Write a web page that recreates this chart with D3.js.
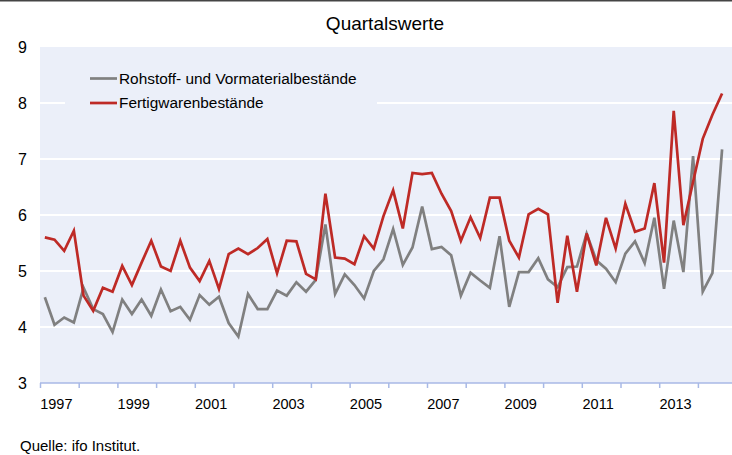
<!DOCTYPE html>
<html>
<head>
<meta charset="utf-8">
<script src="https://cdn.jsdelivr.net/npm/d3@7"></script>
<style>
  body { margin: 0; background: #fff; }
  text { font-family: "Liberation Sans", Arial, sans-serif; fill: #000; }
</style>
</head>
<body>
<script>
/* ---------------------------- */
/* DATA                         */
/* ---------------------------- */

const firstYear = 1997;
const yearLabels = [1997, 1999, 2001, 2003, 2005, 2007, 2009, 2011, 2013];
const yTicks = [3, 4, 5, 6, 7, 8, 9];
const seriesNames = ["Rohstoff- und Vormaterialbestände", "Fertigwarenbestände"];

// quarterly values 1997 Q1 .. 2014 Q3
const rohstoff = [
  4.53, 4.04, 4.17, 4.08, 4.70, 4.32, 4.23, 3.91, 4.49, 4.23, 4.49, 4.20,
  4.67, 4.28, 4.36, 4.13, 4.57, 4.40, 4.54, 4.07, 3.83, 4.59, 4.32, 4.32,
  4.65, 4.56, 4.80, 4.63, 4.84, 5.83, 4.59, 4.94, 4.75, 4.51, 5.00, 5.21,
  5.75, 5.11, 5.42, 6.15, 5.39, 5.43, 5.28, 4.56, 4.97, 4.83, 4.70, 5.62,
  4.36, 4.98, 4.98, 5.23, 4.85, 4.71, 5.07, 5.08, 5.67, 5.19, 5.04, 4.80,
  5.31, 5.53, 5.14, 5.95, 4.68, 5.90, 4.98, 7.05, 4.63, 4.96, 7.17
];
const fertigwaren = [
  5.60, 5.56, 5.36, 5.72, 4.56, 4.29, 4.70, 4.63, 5.09, 4.75, 5.15, 5.54,
  5.08, 5.00, 5.54, 5.06, 4.82, 5.18, 4.68, 5.30, 5.40, 5.30, 5.41, 5.57,
  4.96, 5.54, 5.53, 4.95, 4.85, 6.38, 5.24, 5.22, 5.12, 5.62, 5.40, 5.98,
  6.44, 5.76, 6.75, 6.73, 6.75, 6.38, 6.07, 5.54, 5.96, 5.59, 6.31, 6.31,
  5.54, 5.24, 6.01, 6.11, 6.01, 4.43, 5.63, 4.63, 5.67, 5.10, 5.95, 5.40,
  6.20, 5.70, 5.76, 6.57, 5.15, 7.86, 5.82, 6.59, 7.36, 7.79, 8.17
];

/* ---------------------------- */
/* CANVAS                       */
/* ---------------------------- */

const w = 732; // Width of canvas
const h = 455; // Height of canvas
let margins = {top: 47, right: 0, left: 40, bottom: 72};

const bgColor = "#ebeff9";
const greyColor = "#808080";
const redColor = "#be2a26";

let svg = d3.select("body")
            .append("svg")
                .attr("width", w)
                .attr("height", h);

// dark rule along the top
svg.append("rect")
    .attr("x", 0).attr("y", 0)
    .attr("width", w).attr("height", 1.5)
    .attr("fill", "#444");

// Scales: one slot per quarter, axis runs to end of 2014 (cut off at right)
let nQuarters = 72;
let x = d3.scaleLinear()
    .domain([0, nQuarters])
    .range([margins.left, 736.6]);
let y = d3.scaleLinear()
    .domain([3, 9])
    .range([383, margins.top]);

// Plot background
svg.append("rect")
    .attr("x", margins.left)
    .attr("y", y(9))
    .attr("width", w - margins.left)
    .attr("height", y(3) - y(9))
    .attr("fill", bgColor);

// Gridlines
svg.selectAll("line.grid")
    .data(yTicks.filter(d => d > 3 && d < 9))
    .enter()
    .append("line")
        .attr("class", "grid")
        .attr("x1", margins.left)
        .attr("x2", w)
        .attr("y1", d => y(d))
        .attr("y2", d => y(d))
        .attr("stroke", "#fff")
        .attr("stroke-width", 2);

// Legend box hides part of the 8-gridline
svg.append("rect")
    .attr("x", 65).attr("y", 62)
    .attr("width", 312).attr("height", 56)
    .attr("fill", bgColor);

// Y labels
svg.selectAll("text.ylab")
    .data(yTicks)
    .enter()
    .append("text")
        .attr("class", "ylab")
        .attr("x", 27)
        .attr("y", d => y(d))
        .attr("dy", "0.36em")
        .attr("text-anchor", "end")
        .style("font-size", "16px")
        .text(d => d);

// X axis: ticks at year boundaries
let yearTicks = d3.range(0, 69, 4);
let xAxis = svg.append("g")
    .attr("transform", "translate(0," + y(3) + ")")
    .call(d3.axisBottom(x).tickValues(yearTicks).tickSize(5).tickFormat(""));
xAxis.select(".domain")
    .attr("d", "M" + margins.left + ",0H" + w)
    .attr("stroke", "#a8b9e6")
    .attr("stroke-width", 1.5);
xAxis.selectAll(".tick line")
    .attr("stroke", "#a8b9e6")
    .attr("stroke-width", 1.5);

svg.selectAll("text.xlab")
    .data(yearLabels)
    .enter()
    .append("text")
        .attr("class", "xlab")
        .attr("x", d => x((d - firstYear) * 4 + 2) - 3)
        .attr("y", 409)
        .attr("text-anchor", "middle")
        .style("font-size", "14.5px")
        .text(d => d);

// Lines
let line = d3.line()
    .x((d, i) => x(i + 0.5))
    .y(d => y(d))
    .curve(d3.curveLinear);

svg.append("path")
    .datum(rohstoff)
    .attr("d", line)
    .attr("fill", "none")
    .attr("stroke", greyColor)
    .attr("stroke-width", 2.7)
    .attr("stroke-linejoin", "miter");

svg.append("path")
    .datum(fertigwaren)
    .attr("d", line)
    .attr("fill", "none")
    .attr("stroke", redColor)
    .attr("stroke-width", 2.7)
    .attr("stroke-linejoin", "miter");

// Legend
let legend = svg.selectAll("g.legend")
    .data(seriesNames)
    .enter()
    .append("g")
        .attr("class", "legend")
        .attr("transform", (d, i) => "translate(90," + (78.5 + i * 24.5) + ")");
legend.append("line")
    .attr("x1", 0).attr("x2", 27)
    .attr("stroke", (d, i) => i === 0 ? greyColor : redColor)
    .attr("stroke-width", 2.7);
legend.append("text")
    .attr("x", 29)
    .attr("y", 0)
    .attr("dy", "0.33em")
    .style("font-size", "15.4px")
    .text(d => d);

// Title
svg.append("text")
    .attr("x", 385)
    .attr("y", 30)
    .attr("text-anchor", "middle")
    .style("font-size", "19px")
    .text("Quartalswerte");

// Source
svg.append("text")
    .attr("x", 20)
    .attr("y", 451)
    .style("font-size", "15px")
    .text("Quelle: ifo Institut.");
</script>
</body>
</html>
